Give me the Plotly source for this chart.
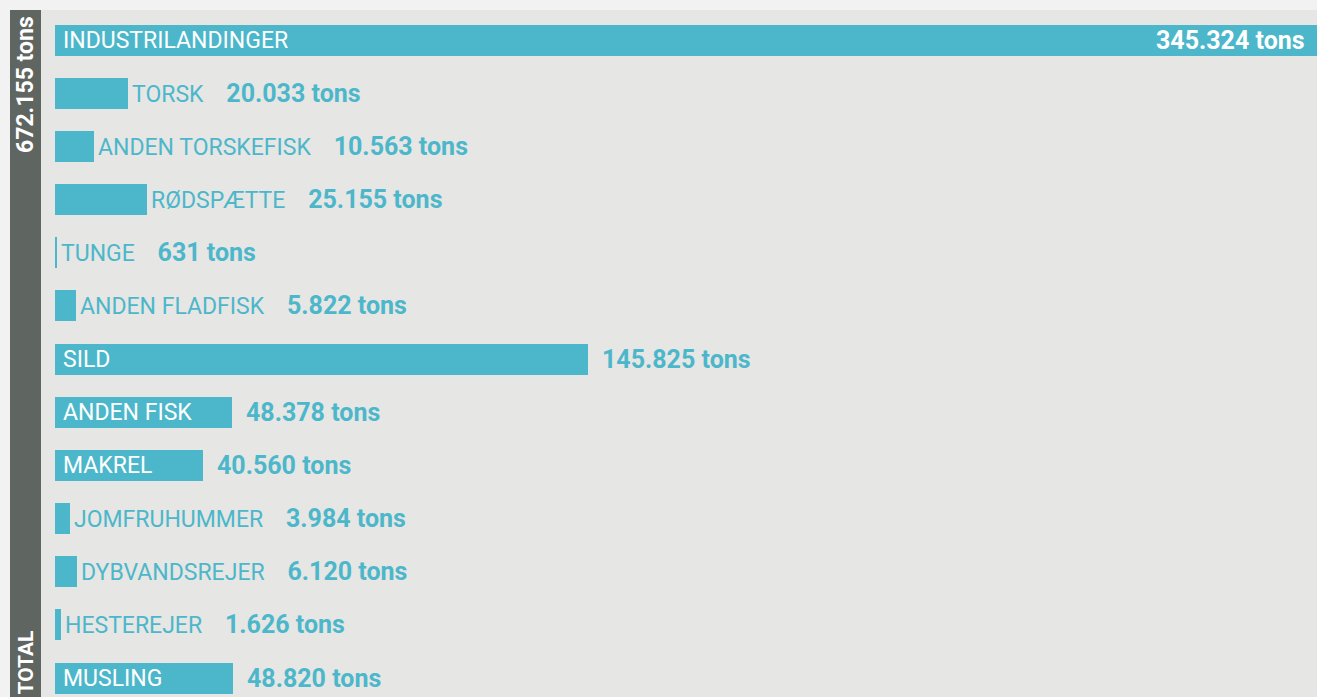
import plotly.graph_objects as go

categories = ["INDUSTRILANDINGER", "TORSK", "ANDEN TORSKEFISK", "RØDSPÆTTE", "TUNGE",
              "ANDEN FLADFISK", "SILD", "ANDEN FISK", "MAKREL", "JOMFRUHUMMER",
              "DYBVANDSREJER", "HESTEREJER", "MUSLING"]
values = [345324, 20033, 10563, 25155, 631, 5822, 145825, 48378, 40560, 3984, 6120, 1626, 48820]
value_labels = ["345.324 tons", "20.033 tons", "10.563 tons", "25.155 tons", "631 tons",
                "5.822 tons", "145.825 tons", "48.378 tons", "40.560 tons", "3.984 tons",
                "6.120 tons", "1.626 tons", "48.820 tons"]
total_label = "672.155 tons"
total_title = "TOTAL"

TEAL = "#4cb7ca"
PANEL = "#e6e6e4"
OUTER = "#f2f2f2"
DARK = "#5f6661"
FONT = "Roboto"

W, H = 1317, 697
ml, mt = 10, 10
plot_w = W - ml
plot_h = H - mt
bar_start_px = 45  # from plot left edge
xmax = max(values)
px_per_unit = (plot_w - bar_start_px) / xmax
xmin = -bar_start_px / px_per_unit

n = len(categories)
row_px = 53.17
first_center = 30
y_top = -first_center / row_px
y_bot = y_top + plot_h / row_px
ys = list(range(n))

fig = go.Figure()
fig.add_trace(go.Bar(
    x=values, y=ys, orientation="h", marker=dict(color=TEAL, line=dict(width=0)),
    width=31 / row_px, hoverinfo="skip", showlegend=False,
))

name_size = 23
val_size = 25

def est_width(s, size):
    return len(s) * size * 0.65

annotations = []
for i, (cat, v, lab) in enumerate(zip(categories, values, value_labels)):
    bar_px = v * px_per_unit
    if v == xmax:
        annotations.append(dict(x=0, y=i, text=cat, xanchor="left", xshift=6, showarrow=False,
                                font=dict(family=FONT, size=name_size, color="white")))
        annotations.append(dict(x=v, y=i, text="<b>" + lab + "</b>", xanchor="right", xshift=-10,
                                showarrow=False, font=dict(family=FONT, size=val_size, color="white")))
    elif bar_px > est_width(cat, name_size) + 16:
        annotations.append(dict(x=0, y=i, text=cat, xanchor="left", xshift=6, showarrow=False,
                                font=dict(family=FONT, size=name_size, color="white")))
        annotations.append(dict(x=v, y=i, text="<b>" + lab + "</b>", xanchor="left", xshift=12,
                                showarrow=False, font=dict(family=FONT, size=val_size, color=TEAL)))
    else:
        txt = (cat + "\u00a0\u00a0\u00a0\u00a0<span style='font-size:%dpx'><b>" % val_size
               + lab + "</b></span>")
        annotations.append(dict(x=v, y=i, text=txt, xanchor="left", xshift=2, showarrow=False,
                                font=dict(family=FONT, size=name_size, color=TEAL)))

# rotated total labels in dark column
annotations.append(dict(xref="paper", yref="paper", x=15.5 / plot_w, y=1 - 4 / plot_h,
                        text="<b>" + total_label + "</b>", textangle=-90, xanchor="center",
                        yanchor="top", showarrow=False,
                        font=dict(family=FONT, size=23, color="white")))
annotations.append(dict(xref="paper", yref="paper", x=15.5 / plot_w, y=0,
                        text="<b>" + total_title + "</b>", textangle=-90, xanchor="center",
                        yanchor="bottom", showarrow=False,
                        font=dict(family=FONT, size=21, color="white")))

fig.update_layout(
    width=W, height=H,
    margin=dict(l=ml, r=0, t=mt, b=0, pad=0),
    paper_bgcolor=OUTER, plot_bgcolor=PANEL,
    xaxis=dict(range=[xmin, xmax], visible=False, fixedrange=True),
    yaxis=dict(range=[y_bot, y_top], visible=False, fixedrange=True),
    shapes=[dict(type="rect", xref="paper", yref="paper", x0=0, x1=31 / plot_w, y0=0, y1=1,
                 fillcolor=DARK, line=dict(width=0), layer="above")],
    annotations=annotations,
    bargap=0,
)

fig.write_html("out.html", config={"displayModeBar": False},
               post_script="document.body.style.margin='0';document.body.style.overflow='hidden';")
